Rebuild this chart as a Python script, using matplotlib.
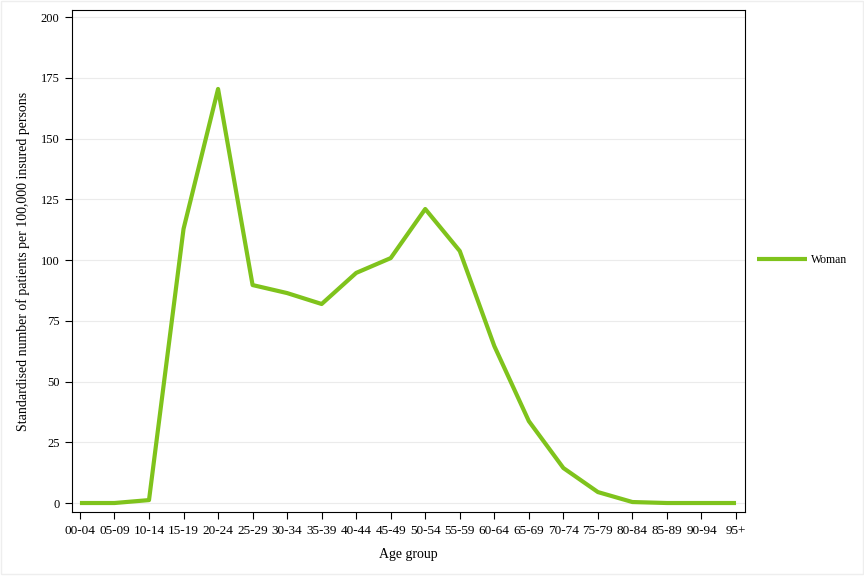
import matplotlib
matplotlib.use("Agg")
import matplotlib.pyplot as plt

age_groups = ["00-04", "05-09", "10-14", "15-19", "20-24", "25-29", "30-34", "35-39",
              "40-44", "45-49", "50-54", "55-59", "60-64", "65-69", "70-74", "75-79",
              "80-84", "85-89", "90-94", "95+"]
woman = [0, 0, 1.2, 112.8, 170.4, 89.7, 86.4, 81.9, 94.7, 100.8, 121.0, 103.7,
         64.6, 33.7, 14.4, 4.5, 0.4, 0, 0, 0]
y_ticks = [0, 25, 50, 75, 100, 125, 150, 175, 200]

GREEN = "#7fc31c"

plt.rcParams.update({"font.family": "Liberation Serif", "font.size": 9})

fig = plt.figure(figsize=(8.64, 5.76), dpi=100)
ax = fig.add_axes([72 / 864, 1 - 512 / 576, (745 - 72) / 864, (512 - 10) / 576])

x = range(len(age_groups))
ax.plot(x, woman, color=GREEN, lw=3, label="Woman", solid_capstyle="butt")

ax.set_xlim(-0.23, len(age_groups) - 1 + 0.26)
ax.set_ylim(-3.7, 202.9)
ax.set_xticks(list(x))
ax.set_xticklabels(age_groups, fontsize=9.5)
ax.set_yticks(y_ticks)
ax.yaxis.grid(True, color="#ebebeb", lw=0.8)
ax.set_axisbelow(True)
ax.tick_params(length=5, width=0.8, pad=4)
for s in ax.spines.values():
    s.set_linewidth(0.8)

ax.set_xlabel("Age group", fontsize=10, labelpad=8)
ax.set_ylabel("Standardised number of patients per 100,000 insured persons", fontsize=10, labelpad=8)

fig.legend(loc="center left", bbox_to_anchor=(757 / 864, 1 - 260 / 576), frameon=False,
           fontsize=8.5, handlelength=4.2, handletextpad=0.4, borderaxespad=0, borderpad=0)

fig.patches.append(plt.Rectangle((0.001, 0.003), 0.998, 0.996, transform=fig.transFigure,
                                 fill=False, edgecolor="#eeeeee", lw=1))

fig.savefig("out.png", dpi=100)
